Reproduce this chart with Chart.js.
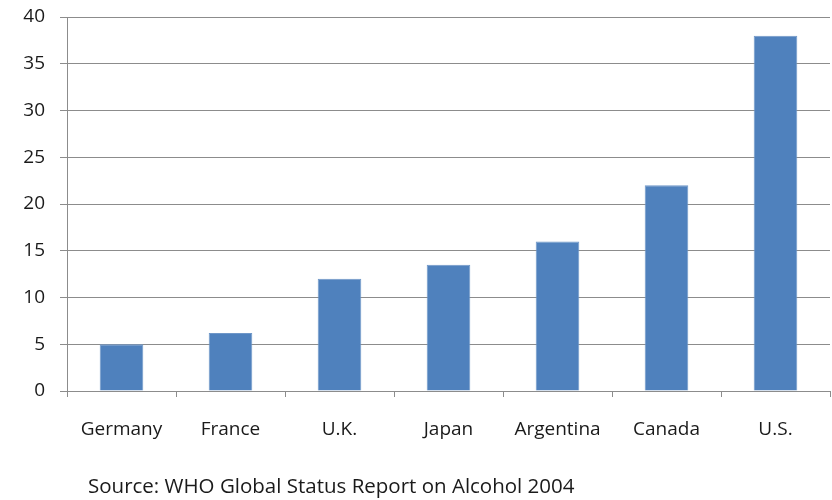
<!DOCTYPE html>
<html>
<head>
<meta charset="utf-8">
<script src="https://cdn.jsdelivr.net/npm/chart.js@4.4.0/dist/chart.umd.min.js"></script>
<style>
  body { margin: 0; background: #fff; }
  #wrap { position: relative; width: 832px; height: 500px; }
  #source {
    position: absolute; left: 88px; top: 471px;
    font-family: 'Open Sans', sans-serif; font-size: 20.5px; color: #1a1a1a;
    white-space: nowrap; line-height: 28px;
  }
</style>
</head>
<body>
<div id="wrap">
  <canvas id="chart" width="832" height="500"></canvas>
  <div id="source">Source: WHO Global Status Report on Alcohol 2004</div>
</div>
<script>
// countries and values
const countries = ['Germany', 'France', 'U.K.', 'Japan', 'Argentina', 'Canada', 'U.S.'];
const values = [5.0, 6.2, 12.0, 13.5, 16.0, 22.0, 38.0];
const yTicks = [0, 5, 10, 15, 20, 25, 30, 35, 40];

const axisFont = { family: "'Open Sans', sans-serif", size: 19 };
const gridGray = '#8c8c8c';

new Chart(document.getElementById('chart').getContext('2d'), {
  type: 'bar',
  data: {
    labels: countries,
    datasets: [{
      data: values,
      backgroundColor: '#4f81bd',
      borderColor: '#6f97c8',
      borderWidth: 1,
      barPercentage: 0.4,
      categoryPercentage: 1.0
    }]
  },
  options: {
    responsive: false,
    animation: false,
    layout: { padding: { top: 17, right: 2, left: 0, bottom: 0 } },
    plugins: {
      legend: { display: false },
      tooltip: { enabled: false }
    },
    scales: {
      x: {
        grid: { drawOnChartArea: false, drawTicks: true, tickLength: 6, color: gridGray, offset: true },
        border: { color: gridGray },
        ticks: { color: '#1a1a1a', font: axisFont, padding: 21, maxRotation: 0 },
        afterFit: (scale) => { scale.height = 109; scale.paddingLeft = 0; scale.paddingRight = 0; }
      },
      y: {
        min: 0,
        max: 40,
        afterBuildTicks: (scale) => { scale.ticks = yTicks.map(v => ({ value: v })); },
        grid: { color: gridGray, tickLength: 7 },
        border: { color: gridGray },
        ticks: { color: '#1a1a1a', font: axisFont, padding: 15 },
        afterFit: (scale) => { scale.width = 67; scale.paddingTop = 0; scale.paddingBottom = 0; }
      }
    }
  }
});
</script>
</body>
</html>
